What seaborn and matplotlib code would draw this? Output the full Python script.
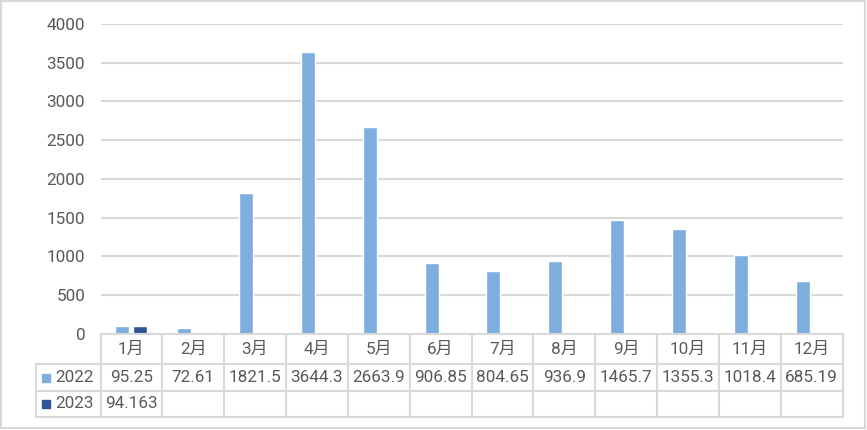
import pandas as pd
import matplotlib.pyplot as plt
import seaborn as sns
from matplotlib.lines import Line2D
from matplotlib.patches import Rectangle

# data
months = ['1月', '2月', '3月', '4月', '5月', '6月', '7月', '8月', '9月', '10月', '11月', '12月']
vals_2022 = [95.25, 72.61, 1821.5, 3644.3, 2663.9, 906.85, 804.65, 936.9, 1465.7, 1355.3, 1018.4, 685.19]
vals_2023 = [94.163, None, None, None, None, None, None, None, None, None, None, None]
labels_2022 = ['95.25', '72.61', '1821.5', '3644.3', '2663.9', '906.85', '804.65', '936.9', '1465.7', '1355.3', '1018.4', '685.19']
labels_2023 = ['94.163', '', '', '', '', '', '', '', '', '', '', '']
years = ['2022', '2023']
colors = ['#7DAEDE', '#2F5597']

df = pd.DataFrame({
    'month': months * 2,
    'year': ['2022'] * 12 + ['2023'] * 12,
    'value': vals_2022 + vals_2023,
})

sns.set_style('white')
plt.rcParams['font.family'] = ['Roboto', 'Noto Sans CJK SC']
plt.rcParams['font.weight'] = 'normal'

W, H = 867, 430
grid_c = '#D9D9D9'
txt_c = '#595959'
fs = 12.3
lw = 1.5

fig = plt.figure(figsize=(W / 100, H / 100), dpi=100)

# plot area in pixels
x0, x1 = 100.5, 842.5
y_top, y_zero = 24, 333.6
ax = fig.add_axes([x0 / W, 1 - y_zero / H, (x1 - x0) / W, (y_zero - y_top) / H])

sns.barplot(data=df, x='month', y='value', hue='year', order=months, hue_order=years,
            palette=colors, width=0.58, gap=0.22, saturation=1, ax=ax, legend=False)

ax.set_xlim(-0.5, 11.5)
ax.set_ylim(0, 4000)
ax.set_yticks(range(0, 4001, 500))
ax.yaxis.grid(True, color=grid_c, linewidth=lw)
ax.set_axisbelow(True)
for s in ['top', 'right', 'left', 'bottom']:
    ax.spines[s].set_visible(False)
ax.tick_params(axis='y', length=0, pad=11, labelsize=fs, labelcolor=txt_c)
ax.set_xticks([])
ax.set_xlabel('')
ax.set_ylabel('')


def fx(x):
    return x / W


def fy(y):
    return 1 - y / H


def hline(xa, xb, y):
    fig.add_artist(Line2D([fx(xa), fx(xb)], [fy(y), fy(y)], color=grid_c, linewidth=lw,
                          transform=fig.transFigure))


def vline(x, ya, yb):
    fig.add_artist(Line2D([fx(x), fx(x)], [fy(ya), fy(yb)], color=grid_c, linewidth=lw,
                          transform=fig.transFigure))


# data table
r0, r1, r2, r3 = 333.6, 364, 391, 417
left = 36
cw = (x1 - x0) / 12
hline(x0, x1, r0)
hline(left, x1, r1)
hline(left, x1, r2)
hline(left, x1, r3)
vline(left, r1, r3)
for i in range(13):
    vline(x0 + i * cw, r0, r3)

for i, m in enumerate(months):
    cx = x0 + (i + 0.5) * cw
    fig.text(fx(cx), fy((r0 + r1) / 2 + 1), m, ha='center', va='center', fontsize=fs, color=txt_c)
    fig.text(fx(cx), fy((r1 + r2) / 2), labels_2022[i], ha='center', va='center', fontsize=fs, color=txt_c)
    if labels_2023[i]:
        fig.text(fx(cx), fy((r2 + r3) / 2), labels_2023[i], ha='center', va='center', fontsize=fs, color=txt_c)

for j, (yr, c) in enumerate(zip(years, colors)):
    ya, yb = [(r1, r2), (r2, r3)][j]
    cy = (ya + yb) / 2
    fig.add_artist(Rectangle((fx(42), fy(cy + 4)), 8 / W, 8 / H, color=c, transform=fig.transFigure))
    fig.text(fx(55), fy(cy), yr, ha='left', va='center', fontsize=fs, color=txt_c)

# outer border
fig.add_artist(Rectangle((fx(1), fy(428)), 864 / W, 427 / H, fill=False, edgecolor=grid_c,
                         linewidth=lw, transform=fig.transFigure))

fig.savefig('out.png', dpi=100)
